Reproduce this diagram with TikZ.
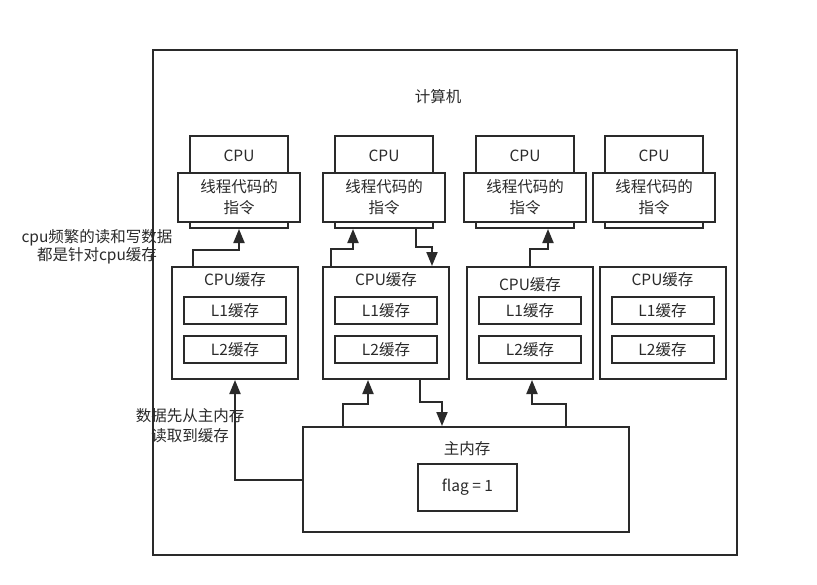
\documentclass[tikz,border=0pt]{standalone}
\usepackage{fontspec}
\setmainfont{Noto Sans CJK SC}
\usetikzlibrary{arrows.meta,positioning}
\definecolor{inkgray}{HTML}{2A2A2A}
\tikzset{
  box/.style={draw=inkgray, line width=2pt, fill=white, inner sep=0pt},
  flow/.style={draw=inkgray, line width=2pt, -{Triangle[length=14pt,width=11pt]}},
  txt/.style={text=inkgray, font=\fontsize{15.5}{18}\selectfont, align=center, inner sep=0pt}
}

\begin{document}
\begin{tikzpicture}[x=1pt,y=-1pt]
  \useasboundingbox (0,0) rectangle (817,584);
  % outer frame
  \node[box, fill=none, minimum width=584, minimum height=505] (frame) at (445,302.5) {};
  \node[txt] (title) at (438,97) {计算机};
  % cpus and their caches
  \foreach \i/\cx/\mx/\ty in {1/239/235/280, 2/384/386/280, 3/525/530/285, 4/654/662.5/280} {
    \node[box, minimum width=98, minimum height=92] (cpu\i) at (\cx,182) {};
    \node[txt] (cpuname\i) at (\cx,156) {CPU};
    \node[box, txt, font=\fontsize{15.5}{21}\selectfont, minimum width=122, minimum height=49] (code\i) at (\cx,197.5) {线程代码的\\指令};
    \node[box, minimum width=126, minimum height=112] (cache\i) at (\mx,323) {};
    \node[txt] (cachename\i) at (\mx,\ty) {CPU缓存};
    \node[box, txt, minimum width=102, minimum height=27] (lone\i) at (\mx,310.5) {L1缓存};
    \node[box, txt, minimum width=102, minimum height=27] (ltwo\i) at (\mx,349.5) {L2缓存};
  }
  % main memory
  \node[box, minimum width=326, minimum height=105] (mem) at (466,479.5) {};
  \node[txt] (memname) at (467,449) {主内存};
  \node[box, txt, minimum width=99, minimum height=47] (flag) at (467.5,487.5) {flag = 1};
  % notes
  \node[txt] (readnote) at (97,247) {cpu频繁的读和写数据\\都是针对cpu缓存};
  \node[txt, font=\fontsize{15.5}{20}\selectfont] (loadnote) at (190,426) {数据先从主内存\\读取到缓存};
  % cache <-> cpu
  \draw[flow] ([xshift=-42pt]cache1.north) |- ([yshift=-21pt]cpu1.south) -- (cpu1.south);
  \draw[flow] ([xshift=-55pt]cache2.north) |- ([xshift=-31pt,yshift=-20pt]cpu2.south) -- ([xshift=-31pt]cpu2.south);
  \draw[flow] ([xshift=32pt]cpu2.south) |- ([xshift=46pt,yshift=19pt]cache2.north) -- ([xshift=46pt]cache2.north);
  \draw[flow] (cache3.north) |- ([xshift=23pt,yshift=-20pt]cpu3.south) -- ([xshift=23pt]cpu3.south);
  % memory <-> cache
  \draw[flow] (mem.west) -| (cache1.south);
  \draw[flow] ([xshift=-123pt]mem.north) |- ([xshift=-18pt,yshift=-24pt]cache2.south) -- ([xshift=-18pt]cache2.south);
  \draw[flow] ([xshift=34pt]cache2.south) |- ([xshift=-24pt,yshift=24pt]mem.north) -- ([xshift=-24pt]mem.north);
  \draw[flow] ([xshift=100pt]mem.north) |- ([xshift=2pt,yshift=-24pt]cache3.south) -- ([xshift=2pt]cache3.south);
\end{tikzpicture}
\end{document}
